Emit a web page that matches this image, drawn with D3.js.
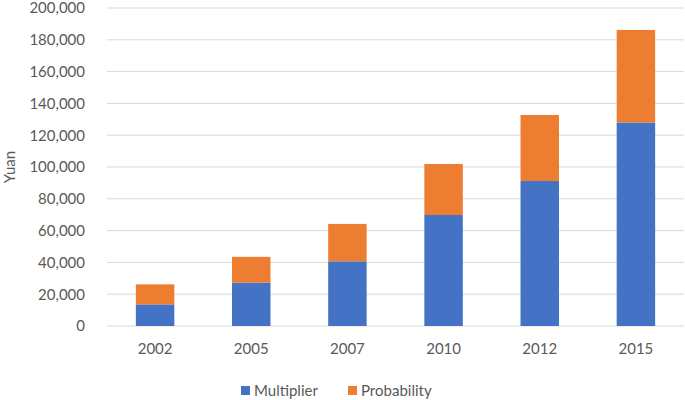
<!DOCTYPE html>
<html>
<head>
<meta charset="utf-8">
<script src="https://cdn.jsdelivr.net/npm/d3@7"></script>
<style>
  body { margin: 0; background: #fff; }
  text { font-family: Lato, "Open Sans", sans-serif; fill: #595959; }
</style>
</head>
<body>
<div id="chart"></div>
<script>

// data
var years = ["2002", "2005", "2007", "2010", "2012", "2015"];
var multiplier = [13600, 27200, 40700, 69800, 91200, 128000];
var probability = [12600, 16300, 23500, 32100, 41500, 58200];
var seriesNames = ["Multiplier", "Probability"];
var colors = ["#4472C4", "#ED7D31"];
var yTicks = [0, 20000, 40000, 60000, 80000, 100000, 120000, 140000, 160000, 180000, 200000];

var width = 685, height = 400;
var margin = {top: 8, right: 1, bottom: 74, left: 107};

var svg = d3.select("#chart").append("svg")
    .attr("width", width)
    .attr("height", height);

var x = d3.scaleBand()
    .domain(years)
    .range([margin.left, width - margin.right])
    .paddingInner(0.6)
    .paddingOuter(0.3);

var y = d3.scaleLinear()
    .domain([0, 200000])
    .range([height - margin.bottom, margin.top]);

// gridlines
svg.append("g")
    .selectAll("line")
    .data(yTicks)
    .enter().append("line")
    .attr("x1", margin.left)
    .attr("x2", width - margin.right)
    .attr("y1", function(d){ return y(d); })
    .attr("y2", function(d){ return y(d); })
    .attr("stroke", "#d9d9d9")
    .attr("stroke-width", 1);

// stacked bars
var table = years.map(function(yr, i){
  return {year: yr, Multiplier: multiplier[i], Probability: probability[i]};
});
var stacked = d3.stack().keys(seriesNames)(table);

svg.append("g")
  .selectAll("g")
  .data(stacked)
  .enter().append("g")
    .attr("fill", function(d, i){ return colors[i]; })
  .selectAll("rect")
  .data(function(d){ return d; })
  .enter().append("rect")
    .attr("x", function(d){ return x(d.data.year); })
    .attr("width", x.bandwidth())
    .attr("y", function(d){ return y(d[1]); })
    .attr("height", function(d){ return y(d[0]) - y(d[1]); });

// y axis labels
var yAxis = d3.axisLeft(y)
    .tickValues(yTicks)
    .tickSize(0)
    .tickPadding(22)
    .tickFormat(d3.format(","));
svg.append("g")
    .attr("transform", "translate(" + margin.left + ",0)")
    .call(yAxis)
    .call(function(g){ g.select(".domain").remove(); })
    .selectAll("text")
    .style("font-size", "15px")
    .attr("fill", "#595959");

// x axis labels
var xAxis = d3.axisBottom(x).tickSize(0).tickPadding(17);
svg.append("g")
    .attr("transform", "translate(0," + y(0) + ")")
    .call(xAxis)
    .call(function(g){ g.select(".domain").remove(); })
    .selectAll("text")
    .style("font-size", "15px")
    .attr("fill", "#595959");

// axis title
svg.append("text")
    .attr("transform", "translate(15," + (y(100000)) + ") rotate(-90)")
    .attr("text-anchor", "middle")
    .style("font-size", "15px")
    .text("Yuan");

// legend
var legend = svg.append("g").attr("transform", "translate(241,386)");
var lx = [0, 107];
seriesNames.forEach(function(name, i){
  var g = legend.append("g").attr("transform", "translate(" + lx[i] + ",0)");
  g.append("rect").attr("width", 9).attr("height", 9).attr("fill", colors[i]);
  g.append("text").attr("x", 13).attr("y", 10).style("font-size", "15px").text(name);
});

</script>
</body>
</html>
